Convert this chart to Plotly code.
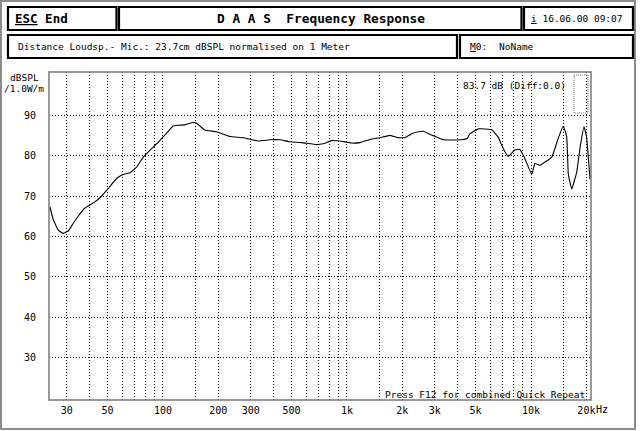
import plotly.graph_objects as go

# ---- data ----
freq_hz = [24.3, 25.4, 27.0, 28.7, 30.6, 32.6, 34.7, 37.7, 42.7, 46.4, 50.4, 56.0, 60.8, 66.2,
           71.9, 78.2, 86.8, 96.3, 106.9, 113.7, 121.1, 131.7, 146.1, 152.4, 169.2, 195.8,
           231.2, 273.2, 329.6, 381.5, 432.5, 490, 567, 684, 743, 826, 916, 1060, 1177, 1362,
           1511, 1713, 1862, 2066, 2247, 2441, 2599, 2944, 3337, 4200, 4500, 4660, 5170, 6115,
           6643, 7070, 7530, 8185, 8710, 9270, 10090, 10510, 11190, 12960, 14070, 14980, 15630,
           15950, 16640, 17720, 18470, 19410, 20030, 20930]
spl_db = [67.4, 64.1, 61.6, 60.8, 61.4, 63.3, 65.1, 67.1, 68.6, 70.0, 71.9, 74.4, 75.4, 75.8,
          77.2, 79.7, 81.8, 83.8, 86.1, 87.4, 87.6, 87.7, 88.3, 88.1, 86.4, 86.0,
          84.8, 84.5, 83.7, 84.0, 84.0, 83.5, 83.3, 82.8, 83.0, 83.8, 83.7, 83.2, 83.3, 84.2,
          84.5, 85.1, 84.6, 84.5, 85.5, 86.0, 86.1, 85.0, 84.0, 84.0, 84.3, 85.5, 86.7, 86.5,
          84.6, 81.8, 79.9, 81.5, 81.6, 79.3, 75.4, 78.1, 77.7, 79.7, 84.4, 87.4, 84.8,
          75.5, 71.8, 76.0, 82.0, 87.2, 84.8, 74.2]

x_grid_vals = [30, 40, 50, 60, 70, 80, 90, 100, 150, 200, 300, 400, 500, 600, 700, 800, 900,
               1000, 1500, 2000, 3000, 4000, 5000, 6000, 7000, 8000, 9000, 10000, 15000, 20000]
x_label_map = {30: "30", 50: "50", 100: "100", 200: "200", 300: "300", 500: "500",
               1000: "1k", 2000: "2k", 3000: "3k", 5000: "5k", 10000: "10k", 20000: "20k"}
y_tick_vals = [30, 40, 50, 60, 70, 80, 90]

title_text = "D A A S\u00a0\u00a0Frequency Response"
date_text = "<u>i</u> 16.06.00 09:07"
info_text = "Distance Loudsp.- Mic.: 23.7cm dBSPL normalised on 1 Meter"
level_text = "83.7 dB (Diff:0.0)"
hint_text = "Press F12 for combined Quick Repeat"

# ---- geometry ----
W, H = 640, 431
L, R, T, B = 49, 591, 72, 400
MONO = "DejaVu Sans Mono"


def px(x):
    return (x - L) / (R - L)


def py(y):
    return (B - y) / (B - T)


fig = go.Figure()
fig.add_trace(go.Scatter(x=freq_hz, y=spl_db, mode="lines",
                         line=dict(color="black", width=1.1, shape="spline", smoothing=0.3),
                         hoverinfo="skip", showlegend=False))

fig.update_layout(
    width=W, height=H,
    margin=dict(l=L, r=W - R, t=T, b=H - B, pad=0),
    paper_bgcolor="white", plot_bgcolor="white",
    font=dict(family=MONO, size=10, color="black"),
    showlegend=False,
)
fig.update_xaxes(type="log", range=[1.381, 4.326], tickmode="array",
                 tickvals=x_grid_vals,
                 ticktext=[x_label_map.get(v, "") for v in x_grid_vals],
                 showgrid=True, gridcolor="black", gridwidth=1, griddash="1px,2px",
                 zeroline=False, showline=False, ticks="",
                 tickfont=dict(family=MONO, size=10), ticklabelstandoff=3)
fig.update_yaxes(range=[19.5, 100.8], tickmode="array", tickvals=y_tick_vals,
                 ticktext=[str(v) for v in y_tick_vals],
                 showgrid=True, gridcolor="black", gridwidth=1, griddash="1px,2px",
                 zeroline=False, showline=False, ticks="",
                 tickfont=dict(family=MONO, size=10), ticklabelstandoff=12)

shapes = []
# outer dithered frame
shapes.append(dict(type="rect", xref="paper", yref="paper", x0=px(1), x1=px(635), y0=py(1), y1=py(429),
                   line=dict(color="#8c8c8c", width=2)))
# plot frame
shapes.append(dict(type="rect", xref="paper", yref="paper", x0=0, x1=1, y0=0, y1=1,
                   line=dict(color="#7a7a7a", width=1.5)))
# header boxes
for (x0, y0, x1, y1) in [(8, 7, 116.5, 30), (119, 7, 521.5, 30), (524, 7, 633, 30),
                         (8, 35, 457, 58), (460, 35, 633, 58)]:
    shapes.append(dict(type="rect", xref="paper", yref="paper", x0=px(x0), x1=px(x1),
                       y0=py(y0), y1=py(y1), line=dict(color="black", width=2.2)))
# small indicator box top right
shapes.append(dict(type="rect", xref="paper", yref="paper", x0=px(574), x1=px(588),
                   y0=py(75), y1=py(113), line=dict(color="#777777", width=1, dash="1px,1px")))
fig.update_layout(shapes=shapes)


def ann(text, x, y, xanchor="left", size=10, bold=False):
    fig.add_annotation(text=("<b>" + text + "</b>") if bold else text,
                       xref="paper", yref="paper", x=px(x), y=py(y),
                       xanchor=xanchor, yanchor="middle", showarrow=False,
                       font=dict(family=MONO, size=size, color="black"))


ann("<u>ESC</u> End", 13, 18.5, size=12.5, bold=True)
ann(title_text, 321, 18.5, xanchor="center", size=12.8, bold=True)
ann(date_text, 529, 18.5, size=9.5)
ann(info_text, 16, 46.5, size=9.5)
ann("<u>M</u>0:", 468, 46.5, size=9.5)
ann("NoName", 497, 46.5, size=9.5)
ann("dBSPL", 24, 77, xanchor="center", size=9.5)
ann("/1.0W/m", 24, 88, xanchor="center", size=9.5)
ann(level_text, 568, 85, xanchor="right", size=9.5)
ann(hint_text, 587, 394, xanchor="right", size=9.5)
ann("Hz", 594, 409.5, size=10)

fig.write_html("out.html", config={"displayModeBar": False, "staticPlot": True},
               post_script="document.body.style.margin='0';document.body.style.padding='0';")
